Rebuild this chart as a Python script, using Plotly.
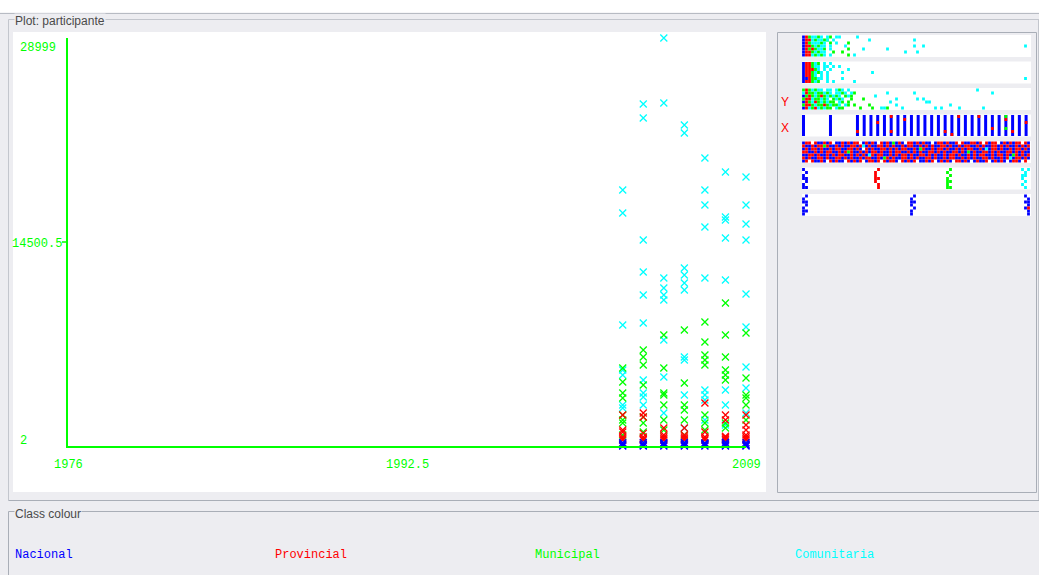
import plotly.graph_objects as go

W, H = 1039, 575

# ---------------------------------------------------------------------------
# Main scatter: participante (y) by year (x), one list pair per class
# ---------------------------------------------------------------------------
nacional_year = [2003, 2003, 2003, 2003, 2004, 2004, 2004, 2004,
                 2005, 2005, 2005, 2005, 2006, 2006, 2006, 2006,
                 2007, 2007, 2007, 2007, 2008, 2008, 2008, 2008,
                 2009, 2009, 2009, 2009]
nacional_value = [2, 71, 150, 240, 2, 55, 130, 260,
                  2, 80, 170, 230, 2, 64, 140, 250,
                  2, 90, 160, 220, 2, 70, 150, 270,
                  2, 60, 130, 240]

provincial_year = [2003, 2003, 2003, 2003, 2003, 2003,
                   2004, 2004, 2004, 2004, 2004, 2004,
                   2005, 2005, 2005, 2005, 2005,
                   2006, 2006, 2006, 2006, 2006,
                   2007, 2007, 2007, 2007, 2007,
                   2008, 2008, 2008, 2008, 2008, 2008,
                   2009, 2009, 2009, 2009, 2009, 2009, 2009]
provincial_value = [2203, 1137, 995, 640, 500, 420,
                    2345, 2061, 900, 640, 520, 430,
                    1279, 782, 640, 520, 430,
                    1279, 782, 640, 520, 440,
                    3056, 1000, 640, 520, 430,
                    2203, 1848, 700, 600, 500, 430,
                    2203, 1492, 1137, 782, 640, 520, 430]

municipal_year = [2003, 2003, 2003, 2003, 2003, 2003, 2003, 2003,
                  2004, 2004, 2004, 2004, 2004, 2004, 2004,
                  2005, 2005, 2005, 2005, 2005, 2005, 2005,
                  2006, 2006, 2006, 2006, 2006, 2006,
                  2007, 2007, 2007, 2007, 2007, 2007, 2007, 2007,
                  2008, 2008, 2008, 2008, 2008, 2008, 2008, 2008,
                  2009, 2009, 2009, 2009, 2009, 2009]
municipal_value = [5543, 4548, 3767, 3411, 2200, 1848, 1635, 782,
                   6823, 6325, 5757, 4335, 2061, 1635, 995,
                   7889, 5543, 3767, 3625, 2914, 1848, 1137,
                   8244, 4477, 2914, 2559, 1848, 782,
                   8813, 7391, 6467, 6112, 5757, 2203, 1635, 1137,
                   10163, 7889, 6325, 5401, 5046, 4691, 1635, 1279,
                   8031, 4833, 3625, 3411, 2914, 1848]

comunitaria_year = [2003, 2003, 2003, 2003, 2003, 2003, 2003,
                    2004, 2004, 2004, 2004, 2004, 2004, 2004, 2004, 2004, 2004,
                    2005, 2005, 2005, 2005, 2005, 2005, 2005, 2005, 2005,
                    2006, 2006, 2006, 2006, 2006, 2006, 2006, 2006, 2006, 2006,
                    2007, 2007, 2007, 2007, 2007, 2007, 2007, 2007, 2007,
                    2008, 2008, 2008, 2008, 2008, 2008, 2008, 2008,
                    2009, 2009, 2009, 2009, 2009, 2009, 2009, 2009, 2009]
comunitaria_value = [18194, 16559, 8600, 5401, 5046, 2914, 2701,
                     24306, 23311, 14640, 12366, 10732, 8742, 4691, 3767, 3482, 2914,
                     28999, 24377, 11940, 11229, 10732, 10376, 7533, 4904, 2345,
                     22813, 22245, 12650, 12153, 11584, 11087, 6325, 6112, 3625, 1279,
                     20468, 18194, 17128, 15564, 11940, 3980, 3625, 3269, 1848,
                     19473, 16275, 16062, 14783, 11798, 3980, 2914, 1492,
                     19118, 17128, 15778, 14640, 10803, 8457, 5615, 4122, 2345]

class_names = ["Nacional", "Provincial", "Municipal", "Comunitaria"]
class_codes = ["b", "r", "g", "c"]

x_range = [1976, 2009]
y_range = [2, 28999]
x_tick_labels = ["1976", "1992.5", "2009"]
y_tick_labels = ["28999", "14500.5", "2"]

# ---------------------------------------------------------------------------
# Attribute strips (right panel): one row of jittered dots per attribute.
# Cells: strip index 0..6, column 0..75 across, jitter row 0..6 top to bottom.
# ---------------------------------------------------------------------------
strip_blocks = [
    (0, 0, ["brgccgc.cg", "brrcgccgc.c", "brgcccgc.g", "brrgcgcc.c",
            "brgrgccg.c", "brrgcgcc..g", "brrcgcgc.c"]),
    (1, 0, ["brrgcg.c.c", "brrgcc.cc.c", "brrrgc.c.c", "brrgcgc.c",
            "brrgc.c.c", "bbrggcc.c", "brrgcg..c.c"]),
    (2, 0, ["grgcgcc.cc.cgc.c", "crggcggcgc.ccgc.cg", "bgrgcgrgcgcgc.gcg",
            "grrcggcgc.gcgc..g", "brgcrgcgcgg.cg.g", "grrgcggrgcggc.cg.g",
            "brcgrcgcgg.cgg"]),
    (4, 0, ["brr.rbbrbr.bbrbrbrr.brbrb.rbrbgbrb.rrbrbrbb.brrbrbbr.rbbrrbr.rbrr.brbrbrr.rb",
            "rbbrbrrgrbbrbrbbrrbrcbrbbrrbrbrbbrbrrbbrbrbrbbrrbrbbrbrrbbrbrbbrrbrbrbbrbrbr",
            "brbrrbrbbrbrrbbrrbrb.rbrbbrrbrbrbrrbbrbgrbbrbrrbrbbrbrbrrbbrbcbrrbrbbrbrrbrb",
            "rrbbrbrbrrbbrbrgrbbrbrbrrbrbbrbrrbbrbrbrbbrrbrbrbbrrbrbgbrbbrrbrbrbbrrbrbrbb",
            "bbrrbrbbrbrbrrbbrbrbrbcrbrrbbrbrbrrbrbbrrbrbrbbrbrrbrbbrbrbrrbbrbrrbrbgrbrbr",
            "rbrbbrrbrbbrrbrbrbbrbrrbbrbgrbrbbrrbrbrbbrrbrbbrbrrbbrbrbrbbrrbrbbrbrcbrrbrb",
            "br.rbbrb.rbrbb.rbrbr.brrbr.rbrrb.rbrbr.bbrbr.brbrb.rrbrb.brbbr.brbrb.brrb.r"]),
    (5, 0, ["b.", ".b", "b.", "bb", ".b", "b.", "bb"]),
    (5, 24, [".r", "r.", "r.", "rr", "r.", ".r", ".r"]),
    (5, 48, [".g", "g.", ".g", "g.", "gg", "g.", "gg"]),
    (5, 73, ["c.c", ".c", "cc", "c.", ".c", "c.", ".c"]),
    (6, 0, [".b", "b.", "bb", ".b", "b.", "bb", "b."]),
    (6, 36, [".b", "b.", "bb", "b.", ".b", "b.", "b."]),
    (6, 74, ["b.", ".b", "bb", ".b", "br", ".b", ".b"]),
]

strip_points = [
    (0, 11, 0, "c"), (0, 12, 0, "c"), (0, 11, 2, "c"), (0, 8, 1, "g"), (0, 15, 2, "g"),
    (0, 15, 4, "g"), (0, 14, 3, "c"), (0, 13, 5, "g"), (0, 18, 0, "c"), (0, 17, 6, "c"),
    (0, 15, 6, "g"), (0, 20, 4, "c"), (0, 22, 1, "c"), (0, 28, 4, "c"), (0, 34, 5, "c"),
    (0, 37, 1, "c"), (0, 37, 3, "c"), (0, 38, 5, "c"), (0, 40, 3, "c"), (0, 74, 3, "c"),
    (1, 12, 1, "c"), (1, 13, 3, "c"), (1, 15, 2, "c"), (1, 13, 5, "c"), (1, 17, 6, "c"),
    (1, 23, 3, "c"), (1, 74, 5, "c"),
    (2, 19, 6, "g"), (2, 20, 3, "g"), (2, 22, 5, "g"), (2, 23, 6, "g"), (2, 24, 2, "c"),
    (2, 26, 6, "c"), (2, 27, 6, "c"), (2, 28, 6, "g"), (2, 28, 1, "c"), (2, 29, 4, "c"),
    (2, 31, 3, "c"), (2, 31, 5, "c"), (2, 33, 6, "c"), (2, 37, 1, "c"), (2, 38, 3, "c"),
    (2, 40, 3, "c"), (2, 41, 4, "c"), (2, 42, 4, "c"), (2, 44, 6, "c"), (2, 46, 6, "c"),
    (2, 49, 5, "c"), (2, 52, 6, "c"), (2, 58, 0, "c"), (2, 60, 6, "c"), (2, 63, 1, "c"),
]

# year attribute strip (index 3): one bar per year present, with class marks
year_bars = [1976, 1980, 1984, 1985, 1986, 1987, 1988, 1989, 1990, 1991, 1992,
             1993, 1994, 1995, 1996, 1997, 1998, 1999, 2000, 2001, 2002, 2003,
             2004, 2005, 2006, 2007, 2008, 2009]
year_marks = [(1984, 5, "r"), (1987, 2, "r"), (1989, 0, "r"), (1989, 5, "r"),
              (1991, 1, "r"), (1997, 5, "r"), (1998, 6, "r"), (1999, 0, "r"),
              (2002, 0, "r"), (2004, 4, "r"), (2006, 0, "g"), (2006, 1, "r"),
              (2006, 4, "g"), (2007, 5, "r"), (2009, 2, "r")]

# ---------------------------------------------------------------------------
BG = "#ededf1"
EDGE = "#a9aeb7"
GREEN = "#00ff00"
COLOURS = {"b": "#0000ff", "r": "#ff0000", "g": "#00ff00", "c": "#00ffff"}
MONO = "Liberation Mono"
SANS = "Liberation Sans"

ROW_H = 3 / 26.5          # jitter row height in strip units
STRIP_COLS = 76


def fx(p):
    return p / W


def fy(p):
    return 1 - p / H


def year_col(yr):
    return (yr - 1976) * 74.2 / 33


fig = go.Figure()

# main scatter traces (drawn so the low Nacional marks stay on top)
main_series = [
    (comunitaria_year, comunitaria_value, "c"),
    (municipal_year, municipal_value, "g"),
    (provincial_year, provincial_value, "r"),
    (nacional_year, nacional_value, "b"),
]
for years, values, code in main_series:
    col = COLOURS[code]
    fig.add_trace(go.Scatter(
        x=years, y=values, mode="markers", xaxis="x", yaxis="y",
        marker=dict(symbol="x-thin", size=7, color=col, line=dict(width=1.3, color=col)),
        cliponaxis=False, hoverinfo="skip", showlegend=False))

# year strip bars: a full column of dots at every year value
bar_x, bar_y = [], []
for yr in year_bars:
    for r in range(7):
        bar_x.append(year_col(yr))
        bar_y.append(3 + (r - 3) * ROW_H)
fig.add_trace(go.Scatter(
    x=bar_x, y=bar_y, mode="markers", xaxis="x2", yaxis="y2",
    marker=dict(symbol="square", size=3, color=COLOURS["b"], line=dict(width=0)),
    hoverinfo="skip", showlegend=False))

# strip dots, collected per class
dots = {k: ([], []) for k in class_codes}
for strip, first, rows in strip_blocks:
    for r, text in enumerate(rows):
        for j, ch in enumerate(text[:STRIP_COLS]):
            if ch in dots:
                dots[ch][0].append(first + j)
                dots[ch][1].append(strip + (r - 3) * ROW_H)
for strip, c, r, ch in strip_points:
    dots[ch][0].append(c)
    dots[ch][1].append(strip + (r - 3) * ROW_H)
for yr, r, ch in year_marks:
    dots[ch][0].append(year_col(yr))
    dots[ch][1].append(3 + (r - 3) * ROW_H)

for code in class_codes:
    xs, ys = dots[code]
    fig.add_trace(go.Scatter(
        x=xs, y=ys, mode="markers", xaxis="x2", yaxis="y2",
        marker=dict(symbol="square", size=2.8, color=COLOURS[code], line=dict(width=0)),
        hoverinfo="skip", showlegend=False))

# ---------------------------------------------------------------------------
# window furniture
shapes = []


def rect(x0, y0, x1, y1, fill="rgba(0,0,0,0)", line=None):
    shapes.append(dict(type="rect", xref="paper", yref="paper",
                       x0=fx(x0), x1=fx(x1), y0=fy(y1), y1=fy(y0),
                       fillcolor=fill, layer="below",
                       line=dict(color=line or "rgba(0,0,0,0)", width=1 if line else 0)))


def seg(x0, y0, x1, y1, color=EDGE, width=1, layer="below"):
    shapes.append(dict(type="line", xref="paper", yref="paper",
                       x0=fx(x0), x1=fx(x1), y0=fy(y0), y1=fy(y1), layer=layer,
                       line=dict(color=color, width=width)))


rect(0, 0, W, 12.5, fill="#ffffff")
seg(0, 13.5, W, 13.5, color="#b7bbc3")
seg(8.5, 19.5, W, 19.5, color="#c3c6cd")
seg(8.5, 19.5, 8.5, 500.5, color="#c3c6cd")
rect(13, 32, 766, 492, fill="#ffffff")
rect(777.5, 32.5, 1036.5, 492.5, fill=BG, line=EDGE)
seg(1038.5, 19.5, 1038.5, 500.5, color="#c3c6cd")
seg(8.5, 500.5, W, 500.5, color=EDGE)
seg(8.5, 511.5, W, 511.5, color=EDGE)
seg(8.5, 511.5, 8.5, H, color=EDGE)

# white strip backgrounds
for k in range(7):
    shapes.append(dict(type="rect", xref="x2", yref="y2", x0=-1.17, x1=75.83,
                       y0=k - 11 / 26.5, y1=k + 11 / 26.5, fillcolor="#ffffff",
                       line=dict(width=0), layer="below"))

# y tick mark at mid value
seg(62, 242, 68, 242, color=GREEN, width=1.5, layer="above")

annotations = []


def label(text, x, y, xanchor, color, family=MONO, size=12, bg=None):
    annotations.append(dict(text=text, x=fx(x), y=fy(y), xref="paper", yref="paper",
                            xanchor=xanchor, yanchor="middle", showarrow=False,
                            font=dict(family=family, size=size, color=color),
                            bgcolor=bg, borderpad=0))


label(y_tick_labels[0], 19, 48, "left", GREEN)
label(y_tick_labels[1], 63, 244, "right", GREEN)
label(y_tick_labels[2], 19, 441, "left", GREEN)
label(x_tick_labels[0], 68, 465, "center", GREEN)
label(x_tick_labels[1], 407, 465, "center", GREEN)
label(x_tick_labels[2], 746, 465, "center", GREEN)

label("Plot: participante", 14, 21, "left", "#4a4a4a", family=SANS, size=12, bg=BG)
label("Class colour", 14, 514, "left", "#4a4a4a", family=SANS, size=12, bg=BG)
label("Y", 785, 102, "center", "#ff0000", family=SANS, size=12)
label("X", 785, 128, "center", "#ff0000", family=SANS, size=12)

for i, (name, code) in enumerate(zip(class_names, class_codes)):
    label(name, 14 + 260 * i, 555, "left", COLOURS[code])

axis_common = dict(showgrid=False, zeroline=False, showticklabels=False, ticks="",
                   fixedrange=True)

fig.update_layout(
    width=W, height=H, margin=dict(l=0, r=0, t=0, b=0, pad=0),
    paper_bgcolor=BG, plot_bgcolor="rgba(0,0,0,0)",
    showlegend=False, shapes=shapes, annotations=annotations,
    xaxis=dict(domain=[fx(68), fx(746)], range=x_range, showline=True,
               linecolor=GREEN, linewidth=2, anchor="y", **axis_common),
    yaxis=dict(domain=[fy(446), fy(38)], range=y_range, showline=True,
               linecolor=GREEN, linewidth=2, anchor="x", **axis_common),
    xaxis2=dict(domain=[fx(802), fx(1033)], range=[-0.5, 76.5], visible=False,
                anchor="y2", **axis_common),
    yaxis2=dict(domain=[fy(218.25), fy(32.75)], range=[6.5, -0.5], visible=False,
                anchor="x2", **axis_common),
)

fig.write_html("out.html")
